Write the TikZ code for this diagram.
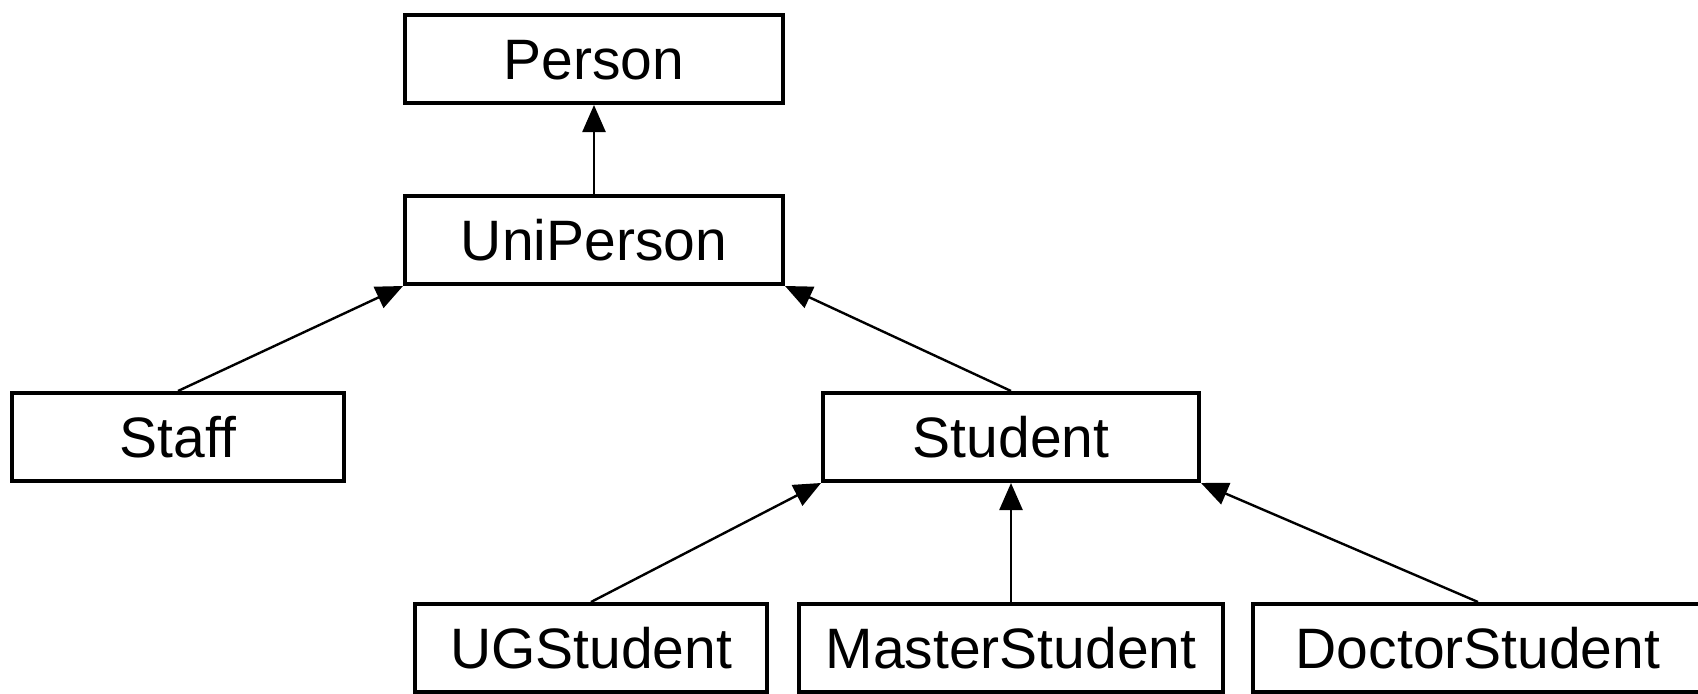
\documentclass[tikz,border=0pt]{standalone}
\usepackage{fontspec}
\setmainfont{Liberation Sans}
\usetikzlibrary{arrows.meta}
\begin{document}
\begin{tikzpicture}[x=1bp,y=-1bp,
  cls/.style={draw=black, line width=4bp, fill=white, rectangle, inner sep=0pt,
    minimum height=88bp, font=\fontsize{57bp}{60bp}\selectfont,
    text height=41bp, text depth=0pt, align=center},
  inh/.style={line width=2.4bp, -{Triangle[length=27bp,width=23bp]}}]
\clip (0,0) rectangle (1698,694);
\fill[white] (0,0) rectangle (1698,694);
\node[cls, minimum width=378bp] (person) at (594,59) {Person};
\node[cls, minimum width=378bp] (uni) at (594,240) {UniPerson};
\node[cls, minimum width=332bp] (staff) at (178,437) {Staff};
\node[cls, minimum width=376bp] (student) at (1011,437) {Student};
\node[cls, minimum width=352bp] (ug) at (591,648) {UGStudent};
\node[cls, minimum width=424bp] (master) at (1011,648) {MasterStudent};
\node[cls, minimum width=450bp] (doctor) at (1478,648) {DoctorStudent};
\draw[inh] (uni.north) -- (person.south);
\draw[inh] (staff.north) -- (uni.south west);
\draw[inh] (student.north) -- (uni.south east);
\draw[inh] (ug.north) -- (student.south west);
\draw[inh] (master.north) -- (student.south);
\draw[inh] (doctor.north) -- (student.south east);
\end{tikzpicture}
\end{document}
